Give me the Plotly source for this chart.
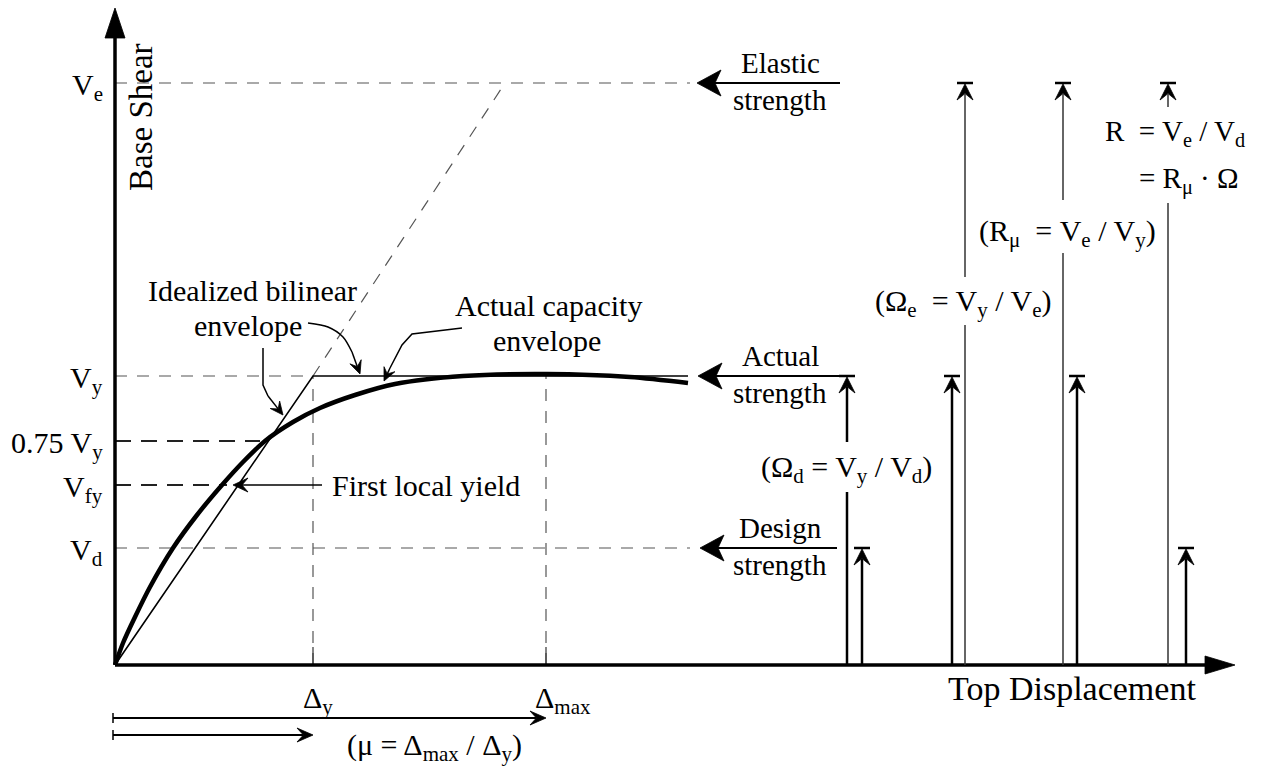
import math
import plotly.graph_objects as go

FONT = "Liberation Serif"

# ---------------- data (drawing units: displacement to the right, base shear up) -------------
SHEAR_LABELS = ["V<sub>e</sub>", "V<sub>y</sub>", "0.75 V<sub>y</sub>", "V<sub>fy</sub>", "V<sub>d</sub>"]
SHEAR_VALUES = [582, 289, 224, 180, 117]
SHEAR_GUIDE_END = [575, 198, 145, 112, 575]

DISP_LABELS = ["Δ<sub>y</sub>", "Δ<sub>max</sub>"]
DISP_VALUES = [198, 431]

CAPACITY_X = [0, 8, 20, 35, 58, 82, 107, 128, 150, 178, 205, 240, 280, 348, 432, 515, 573]
CAPACITY_Y = [0, 22, 48, 78, 117, 150, 180, 203, 224, 243, 257, 270, 281, 289, 291, 288, 282]

BILINEAR_X = [0, 198, 573]
BILINEAR_Y = [0, 289, 289]

ELASTIC_X = [198, 390]
ELASTIC_Y = [289, 582]

AXIS_X_END = 1120
AXIS_Y_END = 657

V = dict(zip(["Ve", "Vy", "V075", "Vfy", "Vd"], SHEAR_VALUES))

fig = go.Figure()


def seg(xs, ys, width, color="black", dash=None, shape="linear"):
    fig.add_trace(go.Scatter(x=xs, y=ys, mode="lines", hoverinfo="skip",
                             line=dict(width=width, color=color, dash=dash, shape=shape,
                                       smoothing=0.8)))


def poly(xs, ys, color="black"):
    fig.add_trace(go.Scatter(x=xs + [xs[0]], y=ys + [ys[0]], mode="lines", fill="toself",
                             fillcolor=color, line=dict(color=color, width=0.8), hoverinfo="skip"))


def head(tx, ty, fx, fy, length, hw, notch=0.6, color="black"):
    """barbed arrow head with its tip at (tx, ty), pointing away from (fx, fy);
    returns the notch point where the shaft should stop"""
    dx, dy = tx - fx, ty - fy
    n = math.hypot(dx, dy)
    ux, uy = dx / n, dy / n
    px_, py_ = -uy, ux
    bx, by = tx - length * ux, ty - length * uy
    nx, ny = tx - notch * length * ux, ty - notch * length * uy
    poly([tx, bx + hw * px_, nx, bx - hw * px_], [ty, by + hw * py_, ny, by - hw * py_], color)
    return nx, ny


def arrow(tx, ty, fx, fy, width, length, hw, notch=0.6, color="black"):
    nx, ny = head(tx, ty, fx, fy, length, hw, notch, color)
    seg([fx, nx], [fy, ny], width, color)


def text(x, y, s, size=30, xanchor="center", yanchor="middle", angle=0, yshift=0):
    fig.add_annotation(x=x, y=y, xref="x", yref="y", text=s, showarrow=False,
                       font=dict(family=FONT, size=size, color="black"),
                       xanchor=xanchor, yanchor=yanchor, textangle=angle, yshift=yshift)


# ---------------- guide lines ----------------
for val, end in zip(SHEAR_VALUES, SHEAR_GUIDE_END):
    heavy = val in (V["V075"], V["Vfy"])
    seg([0, end], [val, val], 2 if heavy else 1.2, "#222" if heavy else "#555",
        "16px,10px" if heavy else "12px,10px")
for d in DISP_VALUES:
    seg([d, d], [0, V["Vy"]], 1.2, "#555", "12px,10px")
    seg([d, d], [0, 18], 1.2, "#333")
seg(ELASTIC_X, ELASTIC_Y, 1.2, "#555", "12px,10px")

# ---------------- envelopes ----------------
seg(BILINEAR_X, BILINEAR_Y, 1.6, "black")
seg(CAPACITY_X, CAPACITY_Y, 4.5, "black", shape="spline")

# ---------------- axes ----------------
seg([0, 0], [0, AXIS_Y_END - 25], 3.5)
seg([0, AXIS_X_END - 25], [0, 0], 3.5)
poly([-10, 0, 10], [AXIS_Y_END - 30, AXIS_Y_END, AXIS_Y_END - 30])
poly([AXIS_X_END - 30, AXIS_X_END, AXIS_X_END - 30], [-9, 0, 9])

# axis labels
for lab, val in zip(SHEAR_LABELS, SHEAR_VALUES):
    text(-10, val, lab, xanchor="right", yshift=-4)
for lab, val in zip(DISP_LABELS, DISP_VALUES):
    text(val + 5 if "y" in lab else val + 17, -35, lab)

text(26, 548, "Base Shear", size=33, angle=-90)
text(957, -23, "Top Displacement", size=34)

# ---------------- leaders / annotations on the curves ----------------
text(137, 375, "Idealized bilinear")
text(133, 340, "envelope")
lx = [148, 148, 153]
ly = [317, 280, 269]
seg(lx, ly, 1.5)
arrow(168, 250, lx[-1], ly[-1], 1.5, 13, 6)
rx = [193, 213, 228, 237]
ry = [342, 338, 328, 313]
seg(rx, ry, 1.5, shape="spline")
arrow(245, 291, rx[-1], ry[-1], 1.5, 13, 6)

text(433, 360, "Actual capacity")
text(432, 325, "envelope")
cx = [347, 297, 287, 275]
cy = [337, 331, 320, 297]
seg(cx, cy, 1.5)
arrow(269, 284, cx[-1], cy[-1], 1.5, 13, 6)

text(215, V["Vfy"], "First local yield", xanchor="left")
arrow(118, V["Vfy"], 207, V["Vfy"], 1.5, 15, 7)

# ---------------- strength labels ----------------
for lvl, word, tip, tail in [("Ve", "Elastic", 582, 725), ("Vy", "Actual", 583, 732), ("Vd", "Design", 585, 722)]:
    arrow(tip, V[lvl], tail, V[lvl], 2, 24, 13, 0.75)
    text(665, V[lvl] + 20, word, size=29)
    text(665, V[lvl] - 17, "strength", size=29)

# ---------------- ratio arrows ----------------
RATIO_X = [732, 747, 837, 850, 948, 962, 1053, 1071]
RATIO_TO = ["Vy", "Vd", "Vy", "Ve", "Ve", "Vy", "Ve", "Vd"]
RATIO_GAP = [(173, 223), None, None, (340, 388), (412, 465), None, (462, 558), None]
for x, lvl, gap in zip(RATIO_X, RATIO_TO, RATIO_GAP):
    top = V[lvl]
    thin = lvl == "Ve"
    w = 1.5 if thin else 2.5
    col = "#333" if thin else "black"
    if gap:
        seg([x, x], [0, gap[0]], w, col)
        nx, ny = head(x, top - 1, x, gap[1], 16, 8, 0.6)
        seg([x, x], [gap[1], ny], w, col)
    else:
        nx, ny = head(x, top - 1, x, 0, 16, 8, 0.6)
        seg([x, x], [0, ny], w, col)
    seg([x - 8, x + 8], [top, top], 2.5)

text(731, 196, "(Ω<sub>d</sub> = V<sub>y</sub> / V<sub>d</sub>)")
text(848, 362, "(Ω<sub>e</sub>\u00a0 = V<sub>y</sub> / V<sub>e</sub>)")
text(952, 432, "(R<sub>μ</sub>\u00a0 = V<sub>e</sub> / V<sub>y</sub>)")
text(988, 532, "R\u00a0 = V<sub>e</sub> / V<sub>d</sub>", size=29, xanchor="left")
text(1022, 485, "= R<sub>μ</sub> · Ω", size=29, xanchor="left")

# ---------------- ductility arrows ----------------
for yv, tip in [(-53, DISP_VALUES[1]), (-70, DISP_VALUES[0])]:
    arrow(tip, yv, -2, yv, 2, 16, 7)
    seg([-2, -2], [yv - 5, yv + 5], 1.5)
text(319, -82, "(μ = Δ<sub>max</sub> / Δ<sub>y</sub>)")

fig.update_layout(
    width=1262, height=767, autosize=False,
    margin=dict(l=0, r=0, t=0, b=0),
    paper_bgcolor="white", plot_bgcolor="white",
    showlegend=False,
    xaxis=dict(range=[-115, 1147], visible=False, fixedrange=True),
    yaxis=dict(range=[-102, 665], visible=False, fixedrange=True),
)
fig.write_html("out.html")
